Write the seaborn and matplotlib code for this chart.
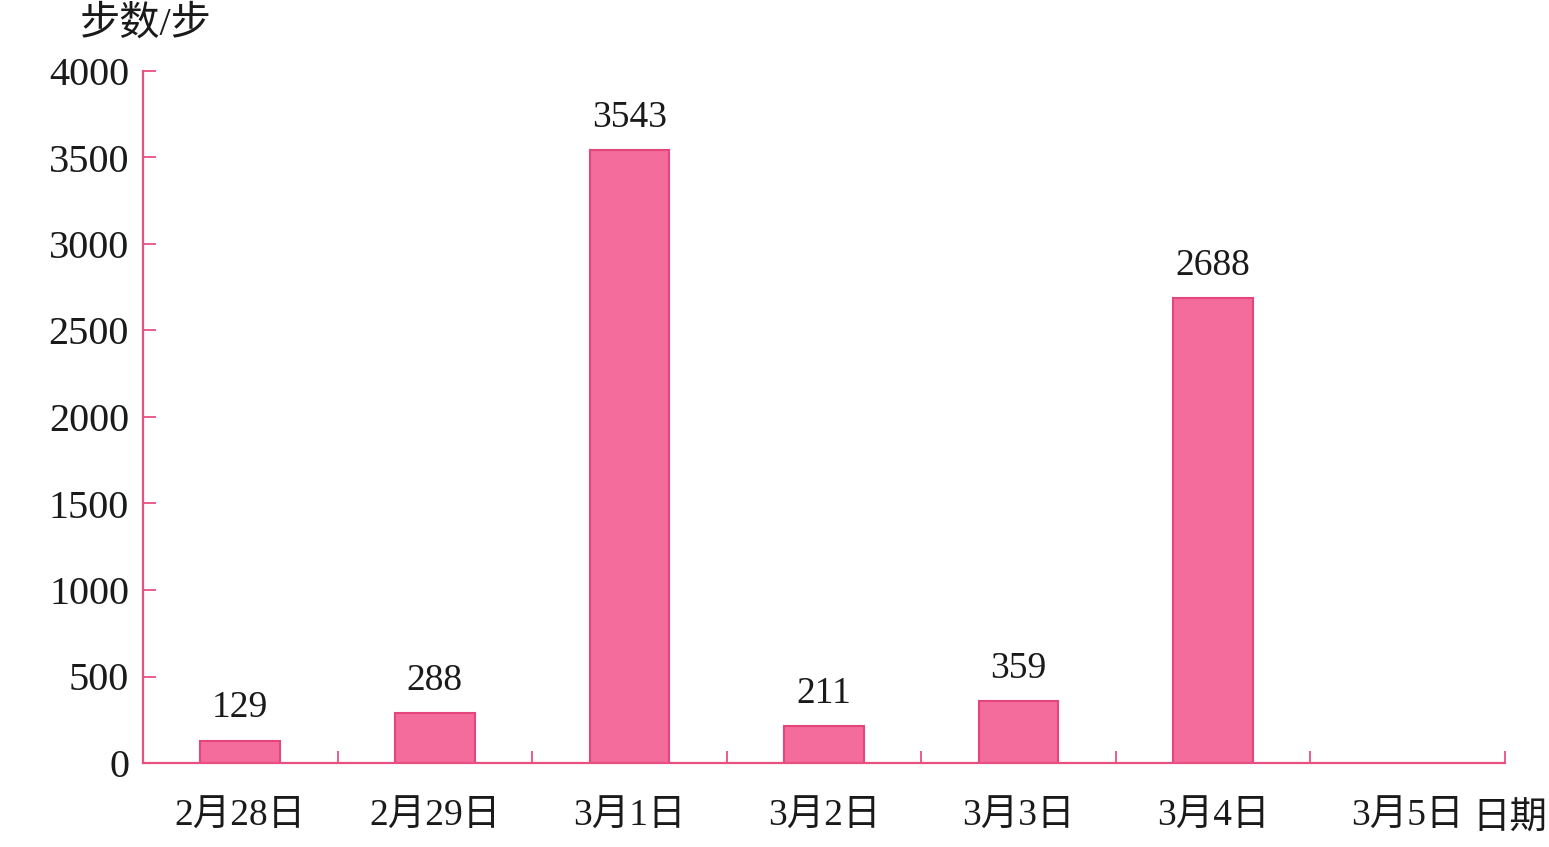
import matplotlib
matplotlib.use("Agg")
import matplotlib.pyplot as plt
import seaborn as sns
import pandas as pd
from matplotlib.ticker import FixedLocator

# ---- data ----
dates_all = ["2月28日", "2月29日", "3月1日", "3月2日", "3月3日", "3月4日", "3月5日"]
dates = ["2月28日", "2月29日", "3月1日", "3月2日", "3月3日", "3月4日"]
steps = [129, 288, 3543, 211, 359, 2688]
y_ticks = [0, 500, 1000, 1500, 2000, 2500, 3000, 3500, 4000]
y_label = "步数/步"
x_label = "日期"

sns.set_theme(style="white")
fonts = ["Liberation Serif", "Noto Sans CJK SC", "DejaVu Sans"]
plt.rcParams["font.family"] = fonts

pink_fill = "#F46C9C"
pink_edge = "#E4457C"
axis_col = "#E8507F"
text_col = "#1a1a1a"

df = pd.DataFrame({"date": dates, "steps": steps})

fig = plt.figure(figsize=(15.49, 8.47), dpi=100)
ax = fig.add_axes([143 / 1549, 1 - 763 / 847, (1505 - 143) / 1549, (763 - 71) / 847])

sns.barplot(data=df, x="date", y="steps", order=dates_all, color=pink_fill,
            saturation=1, width=0.41, edgecolor=pink_edge, linewidth=1.5, ax=ax)

for i, v in enumerate(steps):
    ax.annotate(str(v), (i, v), xytext=(0, 11), textcoords="offset points",
                ha="center", va="bottom", fontsize=27, color=text_col)

ax.set_xlim(-0.5, len(dates_all) - 0.5)
ax.set_ylim(0, 4000)
ax.set_yticks(y_ticks)
ax.set_yticklabels([str(t) for t in y_ticks], fontsize=29, color=text_col)
ax.set_xticks(range(len(dates_all)))
ax.set_xticklabels(dates_all, fontsize=27, color=text_col)
ax.xaxis.set_minor_locator(FixedLocator([i + 0.5 for i in range(len(dates_all))]))

ax.tick_params(axis="x", which="major", bottom=True, length=0, pad=26)
ax.tick_params(axis="x", which="minor", bottom=True, direction="in", length=9, width=1.3, color=axis_col)
ax.tick_params(axis="y", which="major", left=True, direction="in", length=9, width=1.3, color=axis_col, pad=10)

ax.set_xlabel("")
ax.set_ylabel("")
for s in ["top", "right"]:
    ax.spines[s].set_visible(False)
for s in ["left", "bottom"]:
    ax.spines[s].set_color(axis_col)
    ax.spines[s].set_linewidth(1.6)

fig.text(80 / 1549, 1 - 25 / 847, y_label, fontsize=29, ha="left", va="center", color=text_col)
fig.text(1547 / 1549, 1 - 819 / 847, x_label, fontsize=27, ha="right", va="center", color=text_col)

fig.savefig("out.png", dpi=100, facecolor="white")
